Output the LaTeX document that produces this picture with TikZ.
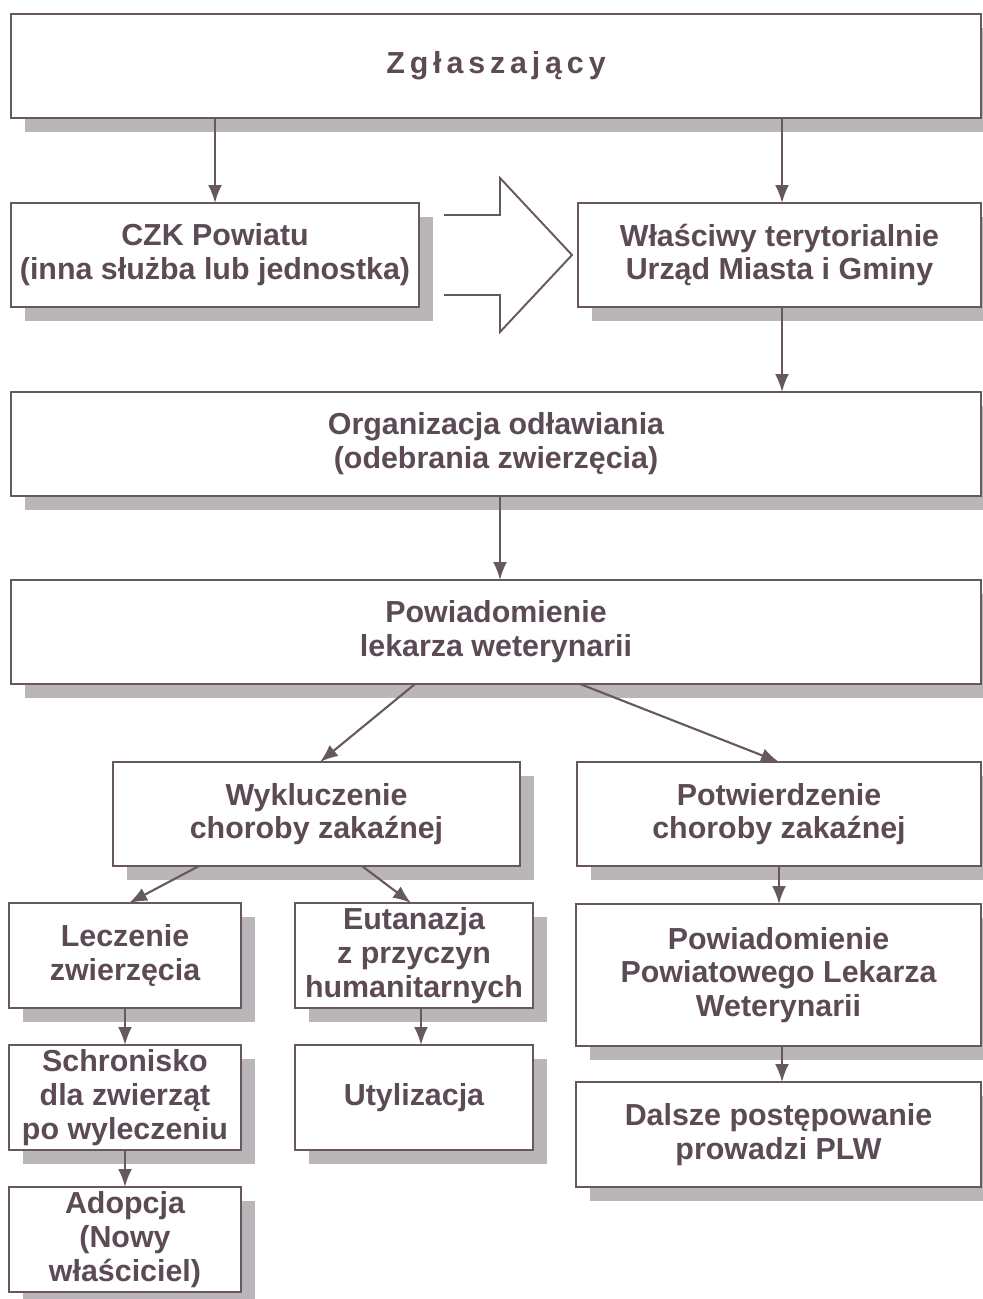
\documentclass[tikz,border=0pt]{standalone}
\usepackage{fontspec}
\setmainfont{Liberation Sans}
\usetikzlibrary{arrows.meta,shadows}
\definecolor{InkColor}{HTML}{5C4B55}
\definecolor{LineColor}{HTML}{675860}
\definecolor{ShadowColor}{HTML}{B9B5B8}
\tikzstyle{flow_box}=[rectangle,
                      minimum height=2.08cm,
                      draw=LineColor,
                      line width=0.8pt,
                      fill=white,
                      text=InkColor,
                      align=center,
                      inner sep=0pt,
                      outer sep=0pt,
                      font=\bfseries\fontsize{17.3}{19.2}\selectfont,
                      drop shadow={shadow xshift=0.28cm, shadow yshift=-0.28cm, fill=ShadowColor, opacity=1}, ]
\tikzstyle{flow_arrow}=[draw=LineColor, line width=1.2pt, -{Latex[length=0.36cm,width=0.28cm]}]

\begin{document}
\begin{tikzpicture}
    \useasboundingbox (0cm, 0cm) rectangle (19.66cm, -25.98cm);
    % ---------------------------------------------------------------------------------------------------------
    %  Zgloszenie
    \node at (9.92cm, -1.32cm) (zgl) [flow_box, minimum width=19.4cm] {\addfontfeatures{LetterSpace=16}Zgłaszający};

    \node at (4.30cm, -5.10cm) (czk) [flow_box, minimum width=8.16cm] {CZK Powiatu\\(inna służba lub jednostka)};
    \node at (15.59cm, -5.10cm) (urzad) [flow_box, minimum width=8.06cm] {Właściwy terytorialnie\\Urząd Miasta i Gminy};

    % pusta strzalka
    \draw[LineColor, line width=1.1pt] (8.88cm, -4.30cm) -- (10.0cm, -4.30cm) -- (10.0cm, -3.56cm) -- (11.44cm, -5.10cm)
        -- (10.0cm, -6.64cm) -- (10.0cm, -5.90cm) -- (8.88cm, -5.90cm);

    \node at (9.92cm, -8.88cm) (org) [flow_box, minimum width=19.4cm] {Organizacja odławiania\\(odebrania zwierzęcia)};
    \node at (9.92cm, -12.64cm) (pow) [flow_box, minimum width=19.4cm] {Powiadomienie\\lekarza weterynarii};

    % ---------------------------------------------------------------------------------------------------------
    \node at (6.33cm, -16.28cm) (wyk) [flow_box, minimum width=8.14cm] {Wykluczenie\\choroby zakaźnej};
    \node at (15.58cm, -16.28cm) (potw) [flow_box, minimum width=8.08cm] {Potwierdzenie\\choroby zakaźnej};

    \node at (2.50cm, -19.11cm) (lecz) [flow_box, minimum width=4.64cm, minimum height=2.10cm] {Leczenie\\zwierzęcia};
    \node at (8.28cm, -19.11cm) (eut) [flow_box, minimum width=4.76cm, minimum height=2.10cm] {Eutanazja\\z przyczyn\\humanitarnych};
    \node at (15.57cm, -19.50cm) (plw) [flow_box, minimum width=8.10cm, minimum height=2.84cm] {Powiadomienie\\Powiatowego Lekarza\\Weterynarii};

    \node at (2.50cm, -21.95cm) (schr) [flow_box, minimum width=4.64cm, minimum height=2.10cm] {Schronisko\\dla zwierząt\\po wyleczeniu};
    \node at (8.28cm, -21.95cm) (utyl) [flow_box, minimum width=4.76cm, minimum height=2.10cm] {Utylizacja};
    \node at (15.57cm, -22.69cm) (dal) [flow_box, minimum width=8.10cm, minimum height=2.10cm] {Dalsze postępowanie\\prowadzi PLW};

    \node at (2.50cm, -24.79cm) (adop) [flow_box, minimum width=4.64cm, minimum height=2.10cm] {Adopcja\\(Nowy\\właściciel)};

    % ---------------------------------------------------------------------------------------------------------
    \draw[flow_arrow] (czk.north |- zgl.south) -- (czk.north);
    \draw[flow_arrow] ([xshift=0.05cm]urzad.north |- zgl.south) -- ([xshift=0.05cm]urzad.north);
    \draw[flow_arrow] ([xshift=0.05cm]urzad.south) -- ([xshift=0.05cm]urzad.south |- org.north);
    \draw[flow_arrow] ([xshift=0.08cm]org.south) -- ([xshift=0.08cm]pow.north);
    \draw[flow_arrow] ([xshift=-1.62cm]pow.south) -- ([xshift=0.07cm]wyk.north);
    \draw[flow_arrow] ([xshift=1.68cm]pow.south) -- (potw.north);
    \draw[flow_arrow] ([xshift=-2.35cm]wyk.south) -- ([xshift=0.08cm]lecz.north);
    \draw[flow_arrow] ([xshift=0.91cm]wyk.south) -- ([xshift=-0.06cm]eut.north);
    \draw[flow_arrow] (potw.south) -- (potw.south |- plw.north);
    \draw[flow_arrow] (lecz.south) -- (schr.north);
    \draw[flow_arrow] ([xshift=0.14cm]eut.south) -- ([xshift=0.14cm]utyl.north);
    \draw[flow_arrow] ([xshift=0.07cm]plw.south) -- ([xshift=0.07cm]dal.north);
    \draw[flow_arrow] (schr.south) -- (adop.north);
\end{tikzpicture}
\end{document}
